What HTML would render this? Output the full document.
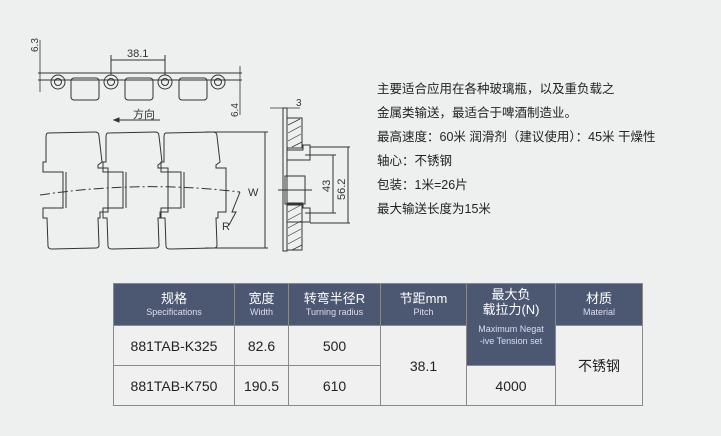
<!DOCTYPE html>
<html><head><meta charset="utf-8"><style>
body{margin:0;width:721px;height:436px;background:#eef0ef;position:relative;overflow:hidden;font-family:"Liberation Sans","Noto Sans CJK SC",sans-serif;}
.txt{position:absolute;left:377px;top:77px;font-size:12.5px;line-height:24px;color:#222;}
table{position:absolute;left:113px;top:283px;border-collapse:collapse;font-family:"Liberation Sans","Noto Sans CJK SC",sans-serif;}
td{border:1px solid #8a8a8a;text-align:center;padding:0;color:#222;font-size:14px;background:#eff0ef;}
td.h{background:#4c5872;color:#fff;font-size:13px;line-height:15px;vertical-align:middle;}
td.h small{display:block;font-size:9px;line-height:12px;color:#dde;}
</style></head><body>
<svg width="721" height="436" style="position:absolute;left:0;top:0" fill="none" stroke="#333" stroke-width="1">
<!-- top chain -->
<line x1="38" y1="73" x2="242" y2="73"/>
<line x1="38" y1="80" x2="242" y2="80"/>
<line x1="40" y1="40" x2="40" y2="92" stroke-width="0.8"/>
<text x="38" y="52" font-size="10" fill="#333" stroke="none" transform="rotate(-90 38 52)" font-family="Liberation Sans">6.3</text>
<line x1="111" y1="60" x2="165" y2="60"/><line x1="111" y1="55" x2="111" y2="75"/><line x1="165" y1="55" x2="165" y2="75"/>
<text x="127" y="57" font-size="11" fill="#333" stroke="none" font-family="Liberation Sans">38.1</text>
<g>
<circle cx="58" cy="82" r="7"/><circle cx="58" cy="82" r="3.5"/>
<circle cx="111" cy="82" r="7"/><circle cx="111" cy="82" r="3.5"/>
<circle cx="165" cy="82" r="7"/><circle cx="165" cy="82" r="3.5"/>
<circle cx="218" cy="82" r="7"/><circle cx="218" cy="82" r="3.5"/>
<rect x="71" y="78" width="28" height="22" rx="3"/>
<rect x="125" y="78" width="28" height="22" rx="3"/>
<rect x="179" y="78" width="28" height="22" rx="3"/>
</g>
<line x1="240" y1="66" x2="240" y2="115" stroke-width="0.8"/>
<text x="238" y="117" font-size="10" fill="#333" stroke="none" transform="rotate(-90 238 117)" font-family="Liberation Sans">6.4</text>
<!-- direction -->
<line x1="114" y1="120" x2="160" y2="120"/><path d="M114 120 l5 -2 v4z" fill="#333"/>
<text x="133" y="118" font-size="11" fill="#333" stroke="none" font-family="Noto Sans CJK SC">方向</text>
<!-- plates -->
<g id="pl">
<path d="M48 133 L95 132 Q99 132 99 136 L102 162 L98 165 L98 168 L108 168 L108 212 L100 212 L100 218 L98 218 L99 245 Q99 248 96 248 L52 249 Q48 249 48 246 L47 218 L43 218 L43 208 L63 208 L63 172 L43 172 L43 162 L46 162 L46 137 Q46 133 48 133Z"/>
<line x1="66" y1="172" x2="66" y2="208"/>
</g>
<use href="#pl" x="60"/>
<use href="#pl" x="118"/>
<line x1="205" y1="132" x2="268" y2="132"/><line x1="205" y1="248" x2="268" y2="248"/>
<line x1="265" y1="132" x2="265" y2="248"/>
<path d="M40 195 Q140 180 240 192" stroke-dasharray="10 3 2 3"/>
<text x="248" y="196" font-size="11" fill="#333" stroke="none" font-family="Liberation Sans">W</text>
<text x="222" y="230" font-size="11" fill="#333" stroke="none" font-family="Liberation Sans">R</text>
<path d="M240 192 L232 212 L236 212 L229 225"/>
<!-- side view -->
<line x1="270" y1="108" x2="300" y2="108" stroke-width="0.8"/>
<text x="296" y="106" font-size="10" fill="#333" stroke="none" font-family="Liberation Sans">3</text>
<rect x="283" y="108" width="4" height="143"/>
<rect x="287" y="118" width="15" height="30"/>
<rect x="287" y="205" width="15" height="45"/>
<path d="M288 125 l12 -6 M288 133 l13 -7 M288 141 l13 -7 M292 147 l10 -5 M288 212 l13 -7 M288 220 l13 -7 M288 228 l13 -7 M288 236 l13 -7 M288 244 l13 -7 M292 250 l10 -5" stroke-width="0.7"/>
<path d="M287 150 L303 150 L303 145 L310 145 L310 160 L287 160"/>
<path d="M287 203 L303 203 L303 208 L310 208 L310 222 L287 222"/>
<rect x="285" y="176" width="20" height="28"/>
<line x1="278" y1="190" x2="312" y2="190"/>
<line x1="305" y1="155" x2="336" y2="155"/><line x1="305" y1="213" x2="336" y2="213"/>
<line x1="333" y1="155" x2="333" y2="213"/>
<line x1="310" y1="147" x2="350" y2="147"/><line x1="310" y1="223" x2="350" y2="223"/>
<line x1="348" y1="147" x2="348" y2="223"/>
<text x="330" y="192" font-size="11" fill="#333" stroke="none" transform="rotate(-90 330 192)" font-family="Liberation Sans">43</text>
<text x="345" y="200" font-size="11" fill="#333" stroke="none" transform="rotate(-90 345 200)" font-family="Liberation Sans">56.2</text>
</svg>
<div class="txt">主要适合应用在各种玻璃瓶，以及重负载之<br>金属类输送，最适合于啤酒制造业。<br>最高速度：60米 润滑剂（建议使用）：45米 干燥性<br>轴心：不锈钢<br>包装：1米=26片<br>最大输送长度为15米</div>
<table>
<tr style="height:42px"><td class="h" style="width:120px">规格<small>Specifications</small></td><td class="h" style="width:53px">宽度<small>Width</small></td><td class="h" style="width:91px">转弯半径R<small>Turning radius</small></td><td class="h" style="width:85px">节距mm<small>Pitch</small></td><td class="h" rowspan="2" style="width:88px;vertical-align:top;padding-top:3px">最大负<br>载拉力(N)<small style="margin-top:6px">Maximum Negat<br>-ive Tension set</small></td><td class="h" style="width:86px">材质<small>Material</small></td></tr>
<tr style="height:40px"><td>881TAB-K325</td><td>82.6</td><td>500</td><td rowspan="2">38.1</td><td rowspan="2">不锈钢</td></tr>
<tr style="height:40px"><td>881TAB-K750</td><td>190.5</td><td>610</td><td>4000</td></tr>
</table>
</body></html>
